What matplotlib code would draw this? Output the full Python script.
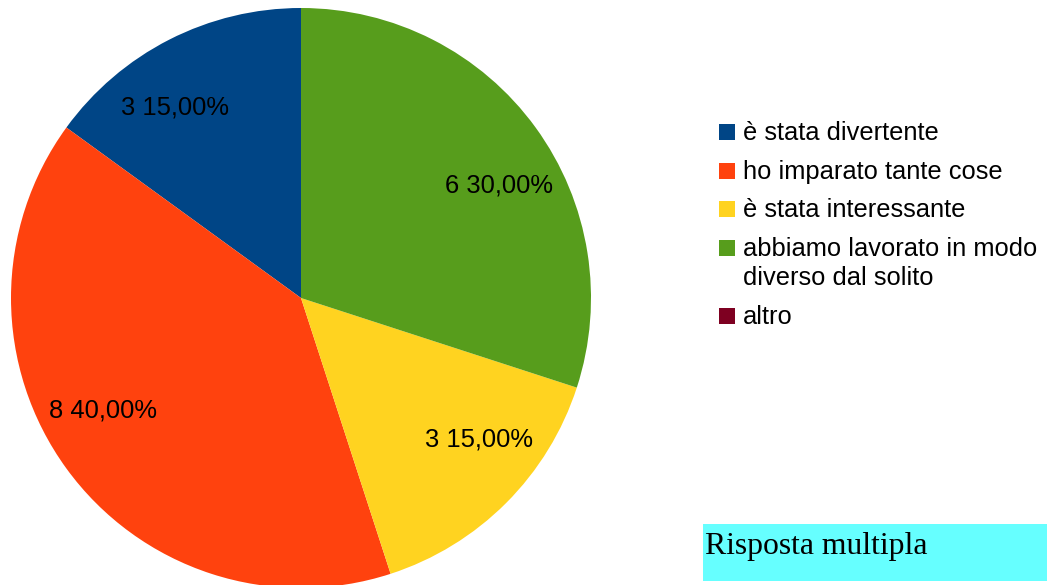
import numpy as np
import matplotlib
matplotlib.use("Agg")
import matplotlib.pyplot as plt
from matplotlib.patches import Rectangle

# answers and counts
categories = ["è stata divertente", "ho imparato tante cose", "è stata interessante",
              "abbiamo lavorato in modo\ndiverso dal solito", "altro"]
counts = [3, 8, 3, 6, 0]
colors = ["#004586", "#ff420e", "#ffd320", "#579d1c", "#7e0021"]
title = "Risposta multipla"

W, H = 1047, 585
total = sum(counts)
FONT = "Liberation Sans"


def label_fmt(pct):
    if pct <= 0:
        return ""
    n = int(round(pct * total / 100))
    return f"{n} {pct:.2f}%".replace(".", ",")


fig = plt.figure(figsize=(W / 100, H / 100), dpi=100)
ax = fig.add_axes([11 / W, -3 / H, 580 / W, 580 / H])

wedges, texts, autotexts = ax.pie(
    counts, colors=colors, startangle=90, counterclock=True,
    autopct=label_fmt, pctdistance=0.786,
    wedgeprops=dict(linewidth=0),
    textprops=dict(family=FONT, fontsize=18.4, color="black"))
ax.set_xlim(-1, 1)
ax.set_ylim(-1, 1)

# labels sit a little off the bisector, pulled towards the horizontal
for w, t in zip(wedges, autotexts):
    mid = 0.5 * (w.theta1 + w.theta2)
    mid -= 6.5 * np.sign(np.sin(np.radians(2 * mid)))
    r = 0.786
    t.set_position((r * np.cos(np.radians(mid)), r * np.sin(np.radians(mid))))

# legend on the right, wrapped labels keep the square on the first line
px = lambda x, y: (x / W, 1 - y / H)
base = 140.0
for cat, col in zip(categories, colors):
    fig.patches.append(Rectangle(px(719, base), 16 / W, 16 / H,
                                 transform=fig.transFigure, facecolor=col,
                                 edgecolor="none"))
    lines = cat.split("\n")
    for k, line in enumerate(lines):
        fig.text(*px(743, base + 29 * k), line, family=FONT, fontsize=18.4,
                 va="baseline", ha="left")
    base += 38.7 + 29 * (len(lines) - 1)

# title box in the lower right
fig.patches.append(Rectangle(px(703, 581), 344 / W, 57 / H,
                             transform=fig.transFigure, facecolor="#66ffff",
                             edgecolor="none"))
fig.text(*px(705, 554), title, family="Liberation Serif", fontsize=22.8,
         va="baseline", ha="left")

fig.savefig("out.png", dpi=100)
